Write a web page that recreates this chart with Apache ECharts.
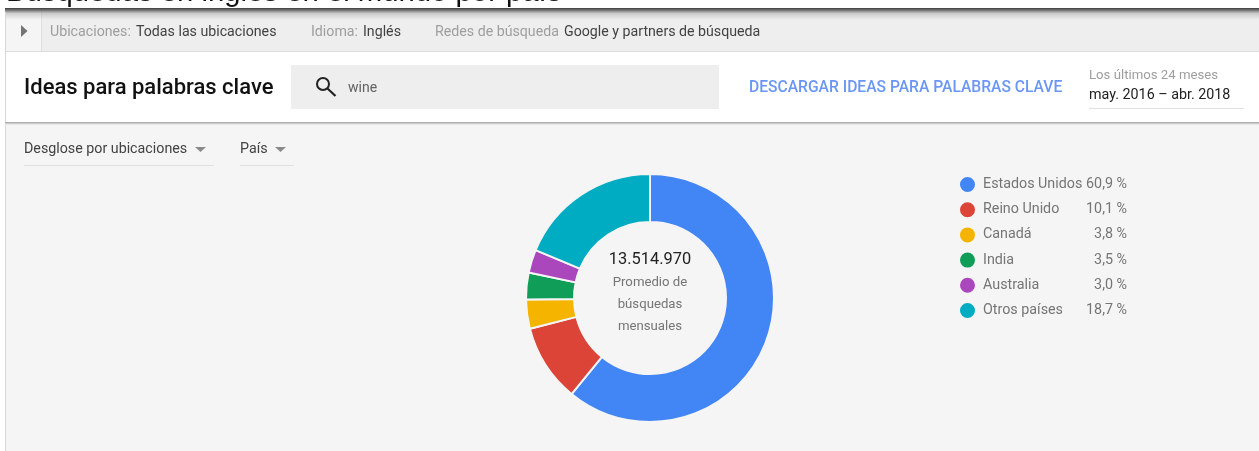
<!DOCTYPE html>
<html><head><meta charset="utf-8">
<style>html,body{margin:0;padding:0;background:#fff}#c{width:1259px;height:451px}</style>
<script src="https://cdn.jsdelivr.net/npm/echarts@6/dist/echarts.min.js"></script>
</head><body><div id="c"></div>
<script>
const categories = ['Estados Unidos','Reino Unido','Canadá','India','Australia','Otros países'];
const shares = [60.9,10.1,3.8,3.5,3.0,18.7];
const colors = ['#4285F4','#DB4437','#F4B400','#0F9D58','#AB47BC','#00ACC1'];
const totalLabel = '13.514.970';
const centerLines = ['Promedio de','búsquedas','mensuales'];
const F = 'Roboto, sans-serif';
const fmt = v => v.toFixed(1).replace('.',',') + ' %';
const rect = (x,y,w,h,fill,extra) => Object.assign({type:'rect',shape:{x,y,width:w,height:h},style:{fill},silent:true},extra||{});
const text = (x,y,t,size,fill,extra) => ({type:'text',x,y,silent:true,style:Object.assign({text:t,font:size+'px '+F,fill,textVerticalAlign:'middle'},extra||{})});
const chart = echarts.init(document.getElementById('c'),null,{renderer:'canvas'});
const topShadow = {type:'linear',x:0,y:0,x2:0,y2:1,colorStops:[
  {offset:0,color:'rgba(50,50,50,0.95)'},
  {offset:0.2,color:'rgba(70,70,70,0.7)'},
  {offset:0.45,color:'rgba(90,90,90,0.25)'},
  {offset:1,color:'rgba(120,120,120,0)'}
]};
const els = [
  {type:'text',x:6,y:-22,silent:true,style:{text:'Búsquedas en inglés en el mundo por país',font:'29.3px "Liberation Sans", Arial, sans-serif',fill:'#111'}},
  rect(0,8,5,443,'#ffffff'),
  rect(5,8,1254,443,'#f5f5f5'),
  rect(5,8,1254,43,'#eeeeee'),
  rect(5,8,36,43,'#f5f5f5'),
  rect(41,8,1,43,'#e0e0e0'),
  rect(5,8,1254,12,topShadow),
  rect(5,51,1254,1,'#dddddd'),
  rect(5,12,1,439,'#d8d8d8'),
  {type:'polygon',silent:true,shape:{points:[[21,25],[27.5,31],[21,37]]},style:{fill:'#757575'}},
  text(50,32,'Ubicaciones:',14.2,'#9e9e9e'),
  text(136,32,'Todas las ubicaciones',14.2,'#424242'),
  text(311,32,'Idioma:',14.2,'#9e9e9e'),
  text(363,32,'Inglés',14.2,'#424242'),
  text(435,32,'Redes de búsqueda',14.2,'#9e9e9e'),
  text(564,32,'Google y partners de búsqueda',14.2,'#424242'),
  rect(5,122,1254,1,'#b0b0b0'),rect(5,123,1254,1,'#cccccc'),rect(5,124,1254,1,'#e6e6e6'),
  rect(6,52,1253,70,'#ffffff'),
  text(24,88,'Ideas para palabras clave',22,'#111111',{font:'500 22px '+F}),
  rect(291,65,428,44,'#eeeeee'),
  {type:'circle',silent:true,shape:{cx:323,cy:84,r:6},style:{fill:'none',stroke:'#212121',lineWidth:2}},
  {type:'line',silent:true,shape:{x1:327.5,y1:88.5,x2:335.5,y2:96},style:{stroke:'#212121',lineWidth:2.2}},
  text(348,88.5,'wine',14,'#616161'),
  text(749,88,'DESCARGAR IDEAS PARA PALABRAS CLAVE',15.65,'#6b96f5',{font:'500 15.65px '+F}),
  text(1089,75.5,'Los últimos 24 meses',13.2,'#9e9e9e'),
  text(1089,95.5,'may. 2016 – abr. 2018',14.3,'#212121'),
  rect(1089,108,155,1,'#e0e0e0'),
  text(24,149,'Desglose por ubicaciones',14.25,'#424242'),
  {type:'polygon',silent:true,shape:{points:[[195,147],[206,147],[200.5,152]]},style:{fill:'#8a8a8a'}},
  rect(24,165,190,1,'#e0e0e0'),
  text(240,149,'País',14.25,'#424242'),
  {type:'polygon',silent:true,shape:{points:[[275,147],[286,147],[280.5,152]]},style:{fill:'#8a8a8a'}},
  rect(240,165,54,1,'#e0e0e0'),
  text(650,260,totalLabel,16.4,'#212121',{textAlign:'center'}),
].concat(centerLines.map((t,i)=>text(650,283+i*22,t,13.2,'#757575',{textAlign:'center'})));
chart.setOption({
  animation:false,
  backgroundColor:'#ffffff',
  color:colors,
  graphic:{elements:els},
  legend:{
    orient:'vertical',left:958,top:175,padding:0,itemWidth:21,itemHeight:17,itemGap:6.2,icon:'circle',
    selectedMode:false,data:categories,
    formatter:n=>'{n|'+n+'}{v|'+fmt(shares[categories.indexOf(n)])+'}',
    textStyle:{rich:{
      n:{width:103,fontFamily:F,fontSize:14.3,color:'#757575',height:17,lineHeight:17},
      v:{width:41,align:'right',fontFamily:F,fontSize:14.3,color:'#757575',height:17,lineHeight:17}
    }}
  },
  series:[{
    type:'pie',center:[650,298],radius:[76,124],startAngle:90,clockwise:true,silent:true,
    label:{show:false},labelLine:{show:false},
    itemStyle:{borderColor:'#f5f5f5',borderWidth:2},
    data:categories.map((name,i)=>({name,value:shares[i]}))
  }]
});
</script></body></html>
